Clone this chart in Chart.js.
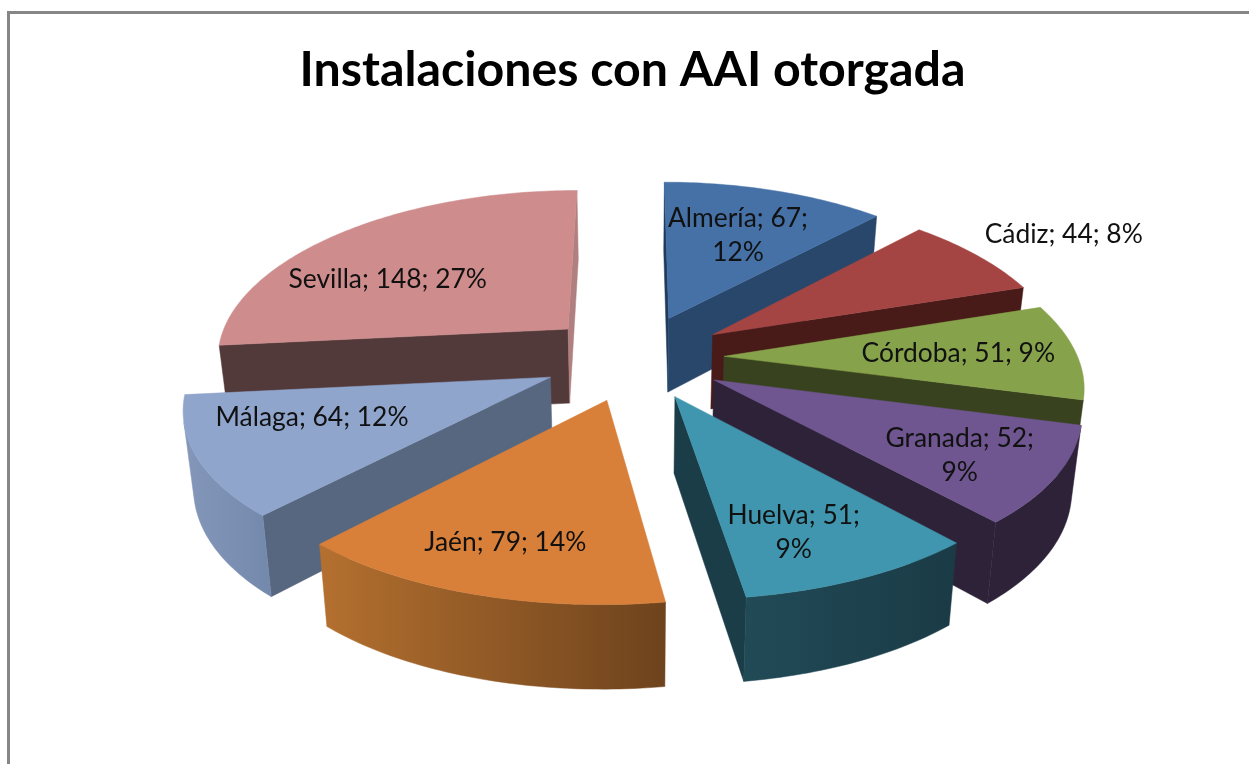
<!DOCTYPE html>
<html>
<head>
<meta charset="utf-8">
<title>Instalaciones con AAI otorgada</title>
<style>
    html, body { margin: 0; padding: 0; background: #fff; overflow: hidden; }
    #wrap { position: relative; width: 1249px; height: 764px; }
    #frame { position: absolute; left: 7px; top: 11px; right: 0; bottom: 0; border-left: 3px solid #868686; border-top: 3px solid #868686; }
    canvas { position: absolute; left: 0; top: 0; }
</style>
<script src="https://cdn.jsdelivr.net/npm/chart.js@4"></script>
</head>
<body>
<div id="wrap">
    <div id="frame"></div>
    <canvas id="pieChart" width="1249" height="764"></canvas>
</div>
<script>
const provincias = ['Almería', 'Cádiz', 'Córdoba', 'Granada', 'Huelva', 'Jaén', 'Málaga', 'Sevilla'];
const instalaciones = [67, 44, 51, 52, 51, 79, 64, 148];

// Slice colours: top face, start cut wall, end cut wall, outer wall left and right
const topColors = ['#4571a7', '#a54543', '#86a34b', '#6f5690', '#4096ae', '#d8803a', '#8fa5cc', '#cf8c8c'];
const startWallColors = ['#1f3a5c', '#481b19', '#38421e', '#2d2238', '#1a3d48', '#6e431d', '#586780', '#52393a'];
const endWallColors = ['#29476b', '#481b19', '#38421e', '#2d2238', '#1a3d48', '#b4702f', '#7f94b6', '#b07f7f'];
const outerLeftColors = ['#29476b', '#481b19', '#38421e', '#2d2238', '#214a57', '#b4702f', '#8497ba', '#52393a'];
const outerRightColors = ['#29476b', '#481b19', '#38421e', '#2d2238', '#1a3b46', '#6e431d', '#7389ab', '#52393a'];

// How far each slice is pulled out of the pie
const sliceOffsets = [60, 60, 57, 58, 58, 60, 60, 60];

// Label placement relative to each slice (radius fraction, degrees from the slice middle)
const labelRadius = [0.62, 1.335, 0.666, 0.75, 0.753, 0.764, 0.67, 0.65];
const labelTurn = [0, 1.3, 0, 2.4, 3.5, 0.7, 6.4, -11.5];
const labelBreak = [true, false, false, true, true, false, false, false];

// View of the tilted pie, as ratios of the outer radius
const VIEW = { shiftX: 3, shiftY: 1, stretchX: 1.555, stretchY: 0.722, depth: 0.33, perspectiveX: 0.155, perspectiveY: 0.134, bottomShrink: 0.977 };

function projectPoint(el, px, py, isBottom) {
    const sx = 1 / (1 - VIEW.perspectiveX * py);
    const sy = 1 / (1 - VIEW.perspectiveY * py);
    const f = isBottom ? VIEW.bottomShrink : 1;
    const R = el.outerRadius;
    return {
        x: el.x + VIEW.shiftX + VIEW.stretchX * R * px * sx * f,
        y: el.y + VIEW.shiftY + VIEW.stretchY * R * py * sy * f + (isBottom ? VIEW.depth * R * sy : 0)
    };
}

function polygonArea(points) {
    let area = 0;
    points.forEach((p, i) => {
        const q = points[(i + 1) % points.length];
        area += p.x * q.y - q.x * p.y;
    });
    return area;
}

function fillPolygon(ctx, points, fill) {
    ctx.beginPath();
    points.forEach((p, i) => (i ? ctx.lineTo(p.x, p.y) : ctx.moveTo(p.x, p.y)));
    ctx.closePath();
    ctx.fillStyle = fill;
    ctx.strokeStyle = fill;
    ctx.lineWidth = 0.5;
    ctx.fill();
    ctx.stroke();
}

function drawSlice(ctx, el, index) {
    const mid = (el.startAngle + el.endAngle) / 2;
    const d = el.options.offset / el.outerRadius;
    const ox = d * Math.cos(mid);
    const oy = d * Math.sin(mid);
    const steps = Math.max(8, Math.round((el.endAngle - el.startAngle) * 180 / Math.PI));

    const rim = [];
    const rimBottom = [];
    for (let i = 0; i <= steps; i++) {
        const a = el.startAngle + (el.endAngle - el.startAngle) * i / steps;
        rim.push(projectPoint(el, ox + Math.cos(a), oy + Math.sin(a), false));
        rimBottom.push(projectPoint(el, ox + Math.cos(a), oy + Math.sin(a), true));
    }
    const apex = projectPoint(el, ox, oy, false);
    const apexBottom = projectPoint(el, ox, oy, true);
    const topFace = [apex].concat(rim);
    const sign = Math.sign(polygonArea(topFace));
    const facing = (a, aBottom, b, bBottom) => Math.sign(polygonArea([a, aBottom, bBottom, b])) === sign;

    // Cut walls
    if (facing(apex, apexBottom, rim[0], rimBottom[0])) {
        fillPolygon(ctx, [apex, apexBottom, rimBottom[0], rim[0]], startWallColors[index]);
    }
    if (facing(rim[steps], rimBottom[steps], apex, apexBottom)) {
        fillPolygon(ctx, [rim[steps], rimBottom[steps], apexBottom, apex], endWallColors[index]);
    }

    // Outer wall, only the run of segments turned towards the viewer
    const upper = [];
    const lower = [];
    for (let i = 0; i < steps; i++) {
        if (facing(rim[i], rimBottom[i], rim[i + 1], rimBottom[i + 1])) {
            if (!upper.length) {
                upper.push(rim[i]);
                lower.push(rimBottom[i]);
            }
            upper.push(rim[i + 1]);
            lower.push(rimBottom[i + 1]);
        }
    }
    if (upper.length) {
        const xs = upper.concat(lower).map(p => p.x);
        const gradient = ctx.createLinearGradient(Math.min(...xs), 0, Math.max(...xs), 0);
        gradient.addColorStop(0, outerLeftColors[index]);
        gradient.addColorStop(1, outerRightColors[index]);
        fillPolygon(ctx, upper.concat(lower.reverse()), gradient);
    }

    fillPolygon(ctx, topFace, topColors[index]);
}

function drawLabel(ctx, el, index, total) {
    const mid = (el.startAngle + el.endAngle) / 2;
    const d = el.options.offset / el.outerRadius;
    const a = mid + labelTurn[index] * Math.PI / 180;
    const p = projectPoint(el,
        d * Math.cos(mid) + labelRadius[index] * Math.cos(a),
        d * Math.sin(mid) + labelRadius[index] * Math.sin(a), false);

    const value = instalaciones[index];
    const percent = Math.round(value / total * 100) + '%';
    const head = provincias[index] + '; ' + value + ';';
    const lines = labelBreak[index] ? [head, percent] : [head + ' ' + percent];

    ctx.font = '26.4px Lato';
    ctx.fillStyle = '#111';
    ctx.textAlign = 'center';
    ctx.textBaseline = 'middle';
    lines.forEach((line, i) => {
        ctx.fillText(line, p.x, p.y + (i - (lines.length - 1) / 2) * 34);
    });
}

const pie3d = {
    id: 'pie3d',
    beforeDatasetDraw(chart, args) {
        const ctx = chart.ctx;
        const arcs = args.meta.data;
        const total = instalaciones.reduce((a, b) => a + b, 0);

        // Back slices first
        const order = arcs.map((el, i) => i).sort((i, j) => {
            const mi = (arcs[i].startAngle + arcs[i].endAngle) / 2;
            const mj = (arcs[j].startAngle + arcs[j].endAngle) / 2;
            return Math.sin(mi) - Math.sin(mj);
        });

        ctx.save();
        order.forEach(i => drawSlice(ctx, arcs[i], i));
        arcs.forEach((el, i) => drawLabel(ctx, el, i, total));
        ctx.restore();
        return false;
    }
};

new Chart(document.getElementById('pieChart'), {
    type: 'pie',
    data: {
        labels: provincias,
        datasets: [{
            data: instalaciones,
            backgroundColor: topColors,
            borderWidth: 0,
            offset: sliceOffsets
        }]
    },
    options: {
        responsive: false,
        animation: false,
        layout: { padding: { left: 16, bottom: 150 } },
        plugins: {
            legend: { display: false },
            tooltip: { enabled: false },
            title: {
                display: true,
                text: 'Instalaciones con AAI otorgada',
                color: '#000',
                font: { family: 'Lato', size: 48.3, weight: '700' },
                padding: { top: 41, bottom: 0 }
            }
        }
    },
    plugins: [pie3d]
});
</script>
</body>
</html>
